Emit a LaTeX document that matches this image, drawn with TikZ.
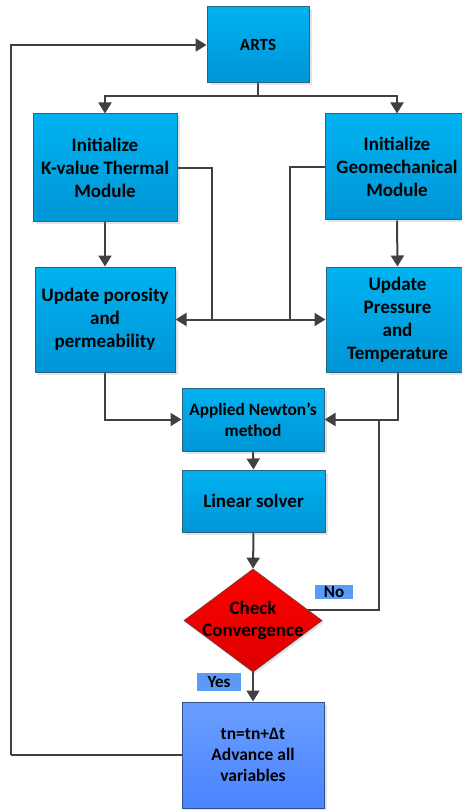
\documentclass[tikz,border=0pt]{standalone}
\usepackage{fontspec}
\setmainfont{Carlito}
\usetikzlibrary{arrows.meta,shapes.geometric,shadows,backgrounds}
\definecolor{boxtop}{HTML}{00B2F0}
\definecolor{boxbot}{HTML}{0095D6}
\definecolor{boxedge}{HTML}{2A6282}
\definecolor{fintop}{HTML}{6A9EFF}
\definecolor{finbot}{HTML}{4A84FF}
\definecolor{finedge}{HTML}{30508A}
\definecolor{redtop}{HTML}{FF0000}
\definecolor{redbot}{HTML}{DD0000}
\definecolor{rededge}{HTML}{7A3A3A}
\definecolor{lblfill}{HTML}{5B9BF7}
\definecolor{ln}{HTML}{404040}
\tikzset{
  box/.style={draw=boxedge, line width=1pt, top color=boxtop, bottom color=boxbot,
    align=center, inner sep=0pt, font=\bfseries\fontsize{19}{23}\selectfont,
    drop shadow={opacity=0.22, shadow xshift=2.5pt, shadow yshift=-2.5pt}},
  finbox/.style={box, draw=finedge, top color=fintop, bottom color=finbot,
    font=\bfseries\fontsize{17.5}{21}\selectfont},
  decision/.style={diamond, draw=rededge, line width=0.8pt, top color=redtop, bottom color=redbot,
    inner sep=0pt, drop shadow={opacity=0.22, shadow xshift=2pt, shadow yshift=-2pt}},
  lbl/.style={fill=lblfill, inner sep=0pt, font=\bfseries\fontsize{17}{20}\selectfont},
  conn/.style={draw=ln, line width=2pt},
  arr/.style={conn, -{Triangle[length=11pt,width=13pt]}},
  arrtwo/.style={conn, {Triangle[length=11pt,width=13pt]}-{Triangle[length=11pt,width=13pt]}},
}
\begin{document}
\begin{tikzpicture}[x=1pt,y=-1pt]
\path[use as bounding box, clip] (0,0) rectangle (462,810);

\node[box, minimum width=102, minimum height=76, font=\bfseries\fontsize{17}{21}\selectfont] (arts) at (258,45) {ARTS};
\node[box, minimum width=144, minimum height=108] (kinit) at (105,168) {Initialize\\K-value Thermal\\Module};
\node[box, minimum width=144, minimum height=106] (ginit) at (397,167) {Initialize\\Geomechanical\\Module};
\node[box, minimum width=140, minimum height=105] (kupd) at (105,319.5) {Update porosity\\and\\permeability};
\node[box, minimum width=143, minimum height=105] (gupd) at (397.5,319.5) {Update\\Pressure\\and\\Temperature};
\node[box, minimum width=142, minimum height=63, font=\bfseries\fontsize{17.3}{21}\selectfont] (newton) at (253,419.5) {Applied Newton’s\\method};
\node[box, minimum width=143, minimum height=62] (linear) at (253.5,501) {Linear solver};
\node[decision, minimum width=138, minimum height=103] (check) at (253,620.5) {};
\node[align=center, inner sep=0pt, font=\bfseries\fontsize{19}{22}\selectfont] (checktxt) at (253,620.5) {Check\\Convergence};
\node[finbox, minimum width=142, minimum height=106] (final) at (253,755) {tn=tn+Δt\\Advance all\\variables};
\node[lbl, minimum width=38, minimum height=14] (no) at (334,592) {No};
\node[lbl, minimum width=44, minimum height=18] (yes) at (219,682) {Yes};

\coordinate (split) at (258,96);
\coordinate (j1) at (212,320);
\coordinate (j2) at (290,320);
\coordinate (nob) at (379,610);
\coordinate (loopc) at (11,755);

\begin{scope}[on background layer]
\draw[conn] (arts.south) -- (split);
\draw[arr] (split) -| (kinit.north);
\draw[arr] (split) -| (ginit.north);
\draw[arr] (kinit.south) -- (kupd.north);
\draw[arr] (ginit.south) -- (gupd.north);
\draw[conn] (kinit.east) -| (j1);
\draw[conn] (ginit.west) -| (j2);
\draw[arrtwo] (kupd.east) -- (gupd.west);
\draw[arr] (kupd.south) |- (newton.west);
\draw[arr] (gupd.south) |- (newton.east);
\draw[arr] (newton.south) -- (linear.north);
\draw[arr] (linear.south) -- (check.north);
\draw[conn] (check.center |- nob) -- (nob) -- (nob |- newton.east);
\draw[arr] (check.south) -- (final.north);
\draw[conn] (final.west) -- (loopc);
\draw[arr] (loopc) |- (arts.west);
\end{scope}
\end{tikzpicture}
\end{document}
